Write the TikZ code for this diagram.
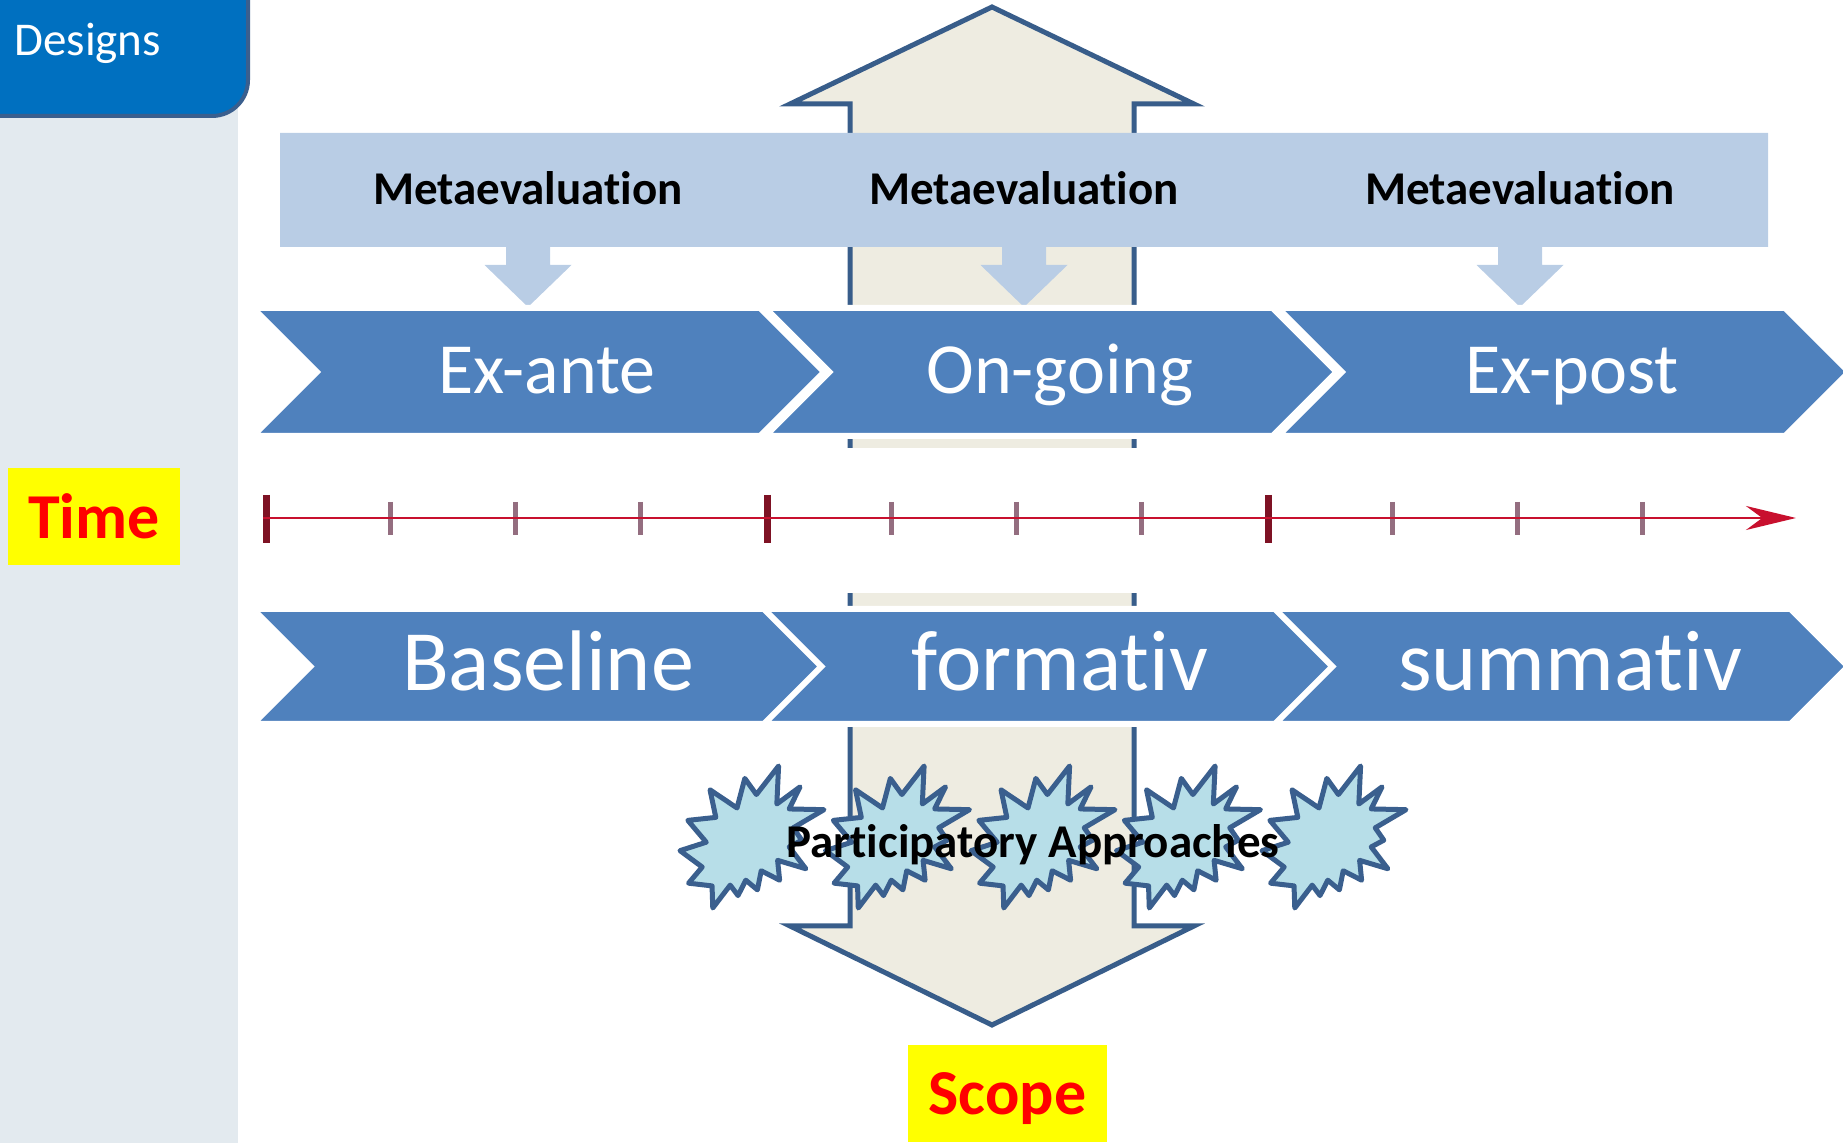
\documentclass[tikz,border=0pt]{standalone}
\usepackage{fontspec}
\setmainfont{Carlito}[Ligatures={NoCommon,NoRare,NoContextual}]
\usetikzlibrary{arrows.meta}
\definecolor{sidebar}{HTML}{E3EAEF}
\definecolor{designblue}{HTML}{0070C0}
\definecolor{darkedge}{HTML}{3A5F8E}
\definecolor{arrowedge}{HTML}{385D8A}
\definecolor{beige}{HTML}{EEECE1}
\definecolor{metablue}{HTML}{B9CDE5}
\definecolor{chevblue}{HTML}{4F81BD}
\definecolor{starfill}{HTML}{B7DEE8}
\definecolor{axisred}{HTML}{C8102E}
\definecolor{minortick}{HTML}{946E80}
\definecolor{majortick}{HTML}{7E1224}
\definecolor{labelyellow}{HTML}{FFFF00}
\definecolor{labelred}{HTML}{FF0000}

\tikzset{
  chevbox/.style={fill=chevblue, draw=white, line width=3pt, line join=miter},
  metabox/.style={fill=metablue, draw=none},
  bigarrow/.style={fill=beige, draw=arrowedge, line width=2.5pt, line join=miter},
  starshape/.style={fill=starfill, draw=darkedge, line width=2.5pt, line join=round},
  metatxt/.style={anchor=base, inner sep=0pt, text=black, font=\fontsize{23.5}{28}\selectfont\bfseries},
  chevtxtA/.style={anchor=base, inner sep=0pt, text=white, font=\fontsize{36}{42}\selectfont},
  chevtxtB/.style={anchor=base, inner sep=0pt, text=white, font=\fontsize{43}{50}\selectfont},
  labelbox/.style={fill=labelyellow, text=labelred, inner sep=0pt, text depth=0pt, font=\fontsize{32}{38}\selectfont\bfseries},
  minortk/.style={draw=minortick, line width=2.5pt},
  majortk/.style={draw=majortick, line width=3.5pt},
}

% chevron: a t b W d  (visible coordinates, white outline of 3px outside)
\newcommand\mychev[5]{%
  \filldraw[chevbox] ({#1-7.2},{#2-3}) -- ({#1+#4-#5+1.2},{#2-3}) -- ({#1+#4+4.2},{(#2+#3)/2})
    -- ({#1+#4-#5+1.2},{#3+3}) -- ({#1-7.2},{#3+3}) -- ({#1+#5-4.2},{(#2+#3)/2}) -- cycle;}

% explosion shape at top-left (x0,y0)
\newcommand\myexplosion[2]{%
  \begin{scope}[shift={(#1,#2)},xscale=144,yscale=142]
  \filldraw[starshape] (0.5306,0.2010) -- (0.6847,0) -- (0.6725,0.2675) -- (0.8337,0.1469)
   -- (0.7583,0.3024) -- (1,0.3076) -- (0.7863,0.4353) -- (0.8458,0.5227) -- (0.7583,0.5699)
   -- (0.8739,0.7237) -- (0.6778,0.6644) -- (0.6918,0.8042) -- (0.5639,0.7377) -- (0.5376,0.8723)
   -- (0.4570,0.8042) -- (0.4028,0.9126) -- (0.3485,0.8391) -- (0.2276,1) -- (0.2225,0.8444)
   -- (0.0595,0.8252) -- (0.1542,0.7116) -- (0,0.5962) -- (0.1822,0.5367) -- (0.0543,0.3829)
   -- (0.2487,0.3619) -- (0.2084,0.1678) -- (0.3958,0.2955) -- (0.4501,0.0874) -- cycle;
  \end{scope}}

\begin{document}
\begin{tikzpicture}[x=0.5pt,y=-0.5pt]
\useasboundingbox (0,0) rectangle (1843,1143);

% left sidebar
\fill[sidebar] (0,0) rectangle (238,1143);
% top-left title box
\draw[fill=designblue, draw=darkedge, line width=2pt, rounded corners=18pt]
  (-60,-60) -- (248,-60) -- (248,116) -- (-60,116) -- cycle;
\node[anchor=base west, inner sep=0pt, text=white, font=\fontsize{23.5}{28}\selectfont] (designs) at (14,56) {Designs};

% big up-down arrow (scope)
\draw[bigarrow] (992,7) -- (1194,104) -- (1134,104) -- (1134,926) -- (1194,926) -- (992,1025)
  -- (790,926) -- (850,926) -- (850,104) -- (790,104) -- cycle;

% metaevaluation callouts
\foreach \x/\c in {280/528, 776/1024, 1272/1520}{
  \fill[metabox] (\x,133) -- ({\x+496},133) -- ({\x+496},247) -- ({\c+22},247) -- ({\c+22},265)
    -- ({\c+43.5},265) -- (\c,307) -- ({\c-43.5},265) -- ({\c-22},265) -- ({\c-22},247) -- (\x,247) -- cycle;
}
\node[metatxt] (m1) at (528,205) {Metaevaluation};
\node[metatxt] (m2) at (1024,205) {Metaevaluation};
\node[metatxt] (m3) at (1520,205) {Metaevaluation};

% chevrons row 1
\mychev{260}{311}{433}{560}{61}
\mychev{772.5}{311}{433}{560}{61}
\mychev{1285}{311}{433}{560}{61}
\node[chevtxtA] (c1) at (547,394) {Ex-ante};
\node[chevtxtA] (c2) at (1060,394) {On-going};
\node[chevtxtA] (c3) at (1572,394) {Ex-post};

% timeline background (white image area)
\fill[white] (240,448) rectangle (1843,593);

% timeline
\coordinate (tlstart) at (263,518);
\coordinate (tlend) at (1796,518);
\foreach \i in {1,2,3,5,6,7,9,10,11}{
  \draw[minortk] ({265+125.25*\i},502) -- ({265+125.25*\i},535);
}
\foreach \i in {0,4,8}{
  \draw[majortk] ({266+125.25*\i},495) -- ({266+125.25*\i},543);
}
\draw[draw=axisred, line width=1.4pt, -{Stealth[length=25pt, width=12pt]}] (tlstart) -- (tlend);

% chevrons row 2
\mychev{260}{612}{721}{562}{54.5}
\mychev{771}{612}{721}{562}{54.5}
\mychev{1282}{612}{721}{562}{54.5}
\node[chevtxtB] (d1) at (548,691) {Baseline};
\node[chevtxtB] (d2) at (1060,691) {formativ};
\node[chevtxtB] (d3) at (1570,691) {summativ};

% participatory approaches stars
\foreach \i in {0,1,2,3,4}{
  \myexplosion{{680+145.5*\i}}{766}
}
\node[metatxt] (pa) at (1033,858) {Participatory Approaches};

% labels
\node[labelbox, minimum width=86pt, minimum height=48.5pt] (time) at (94,516.5) {Time};
\node[labelbox, minimum width=99.5pt, minimum height=48.5pt] (scope) at (1007.5,1093.5) {Scope};

\end{tikzpicture}
\end{document}
